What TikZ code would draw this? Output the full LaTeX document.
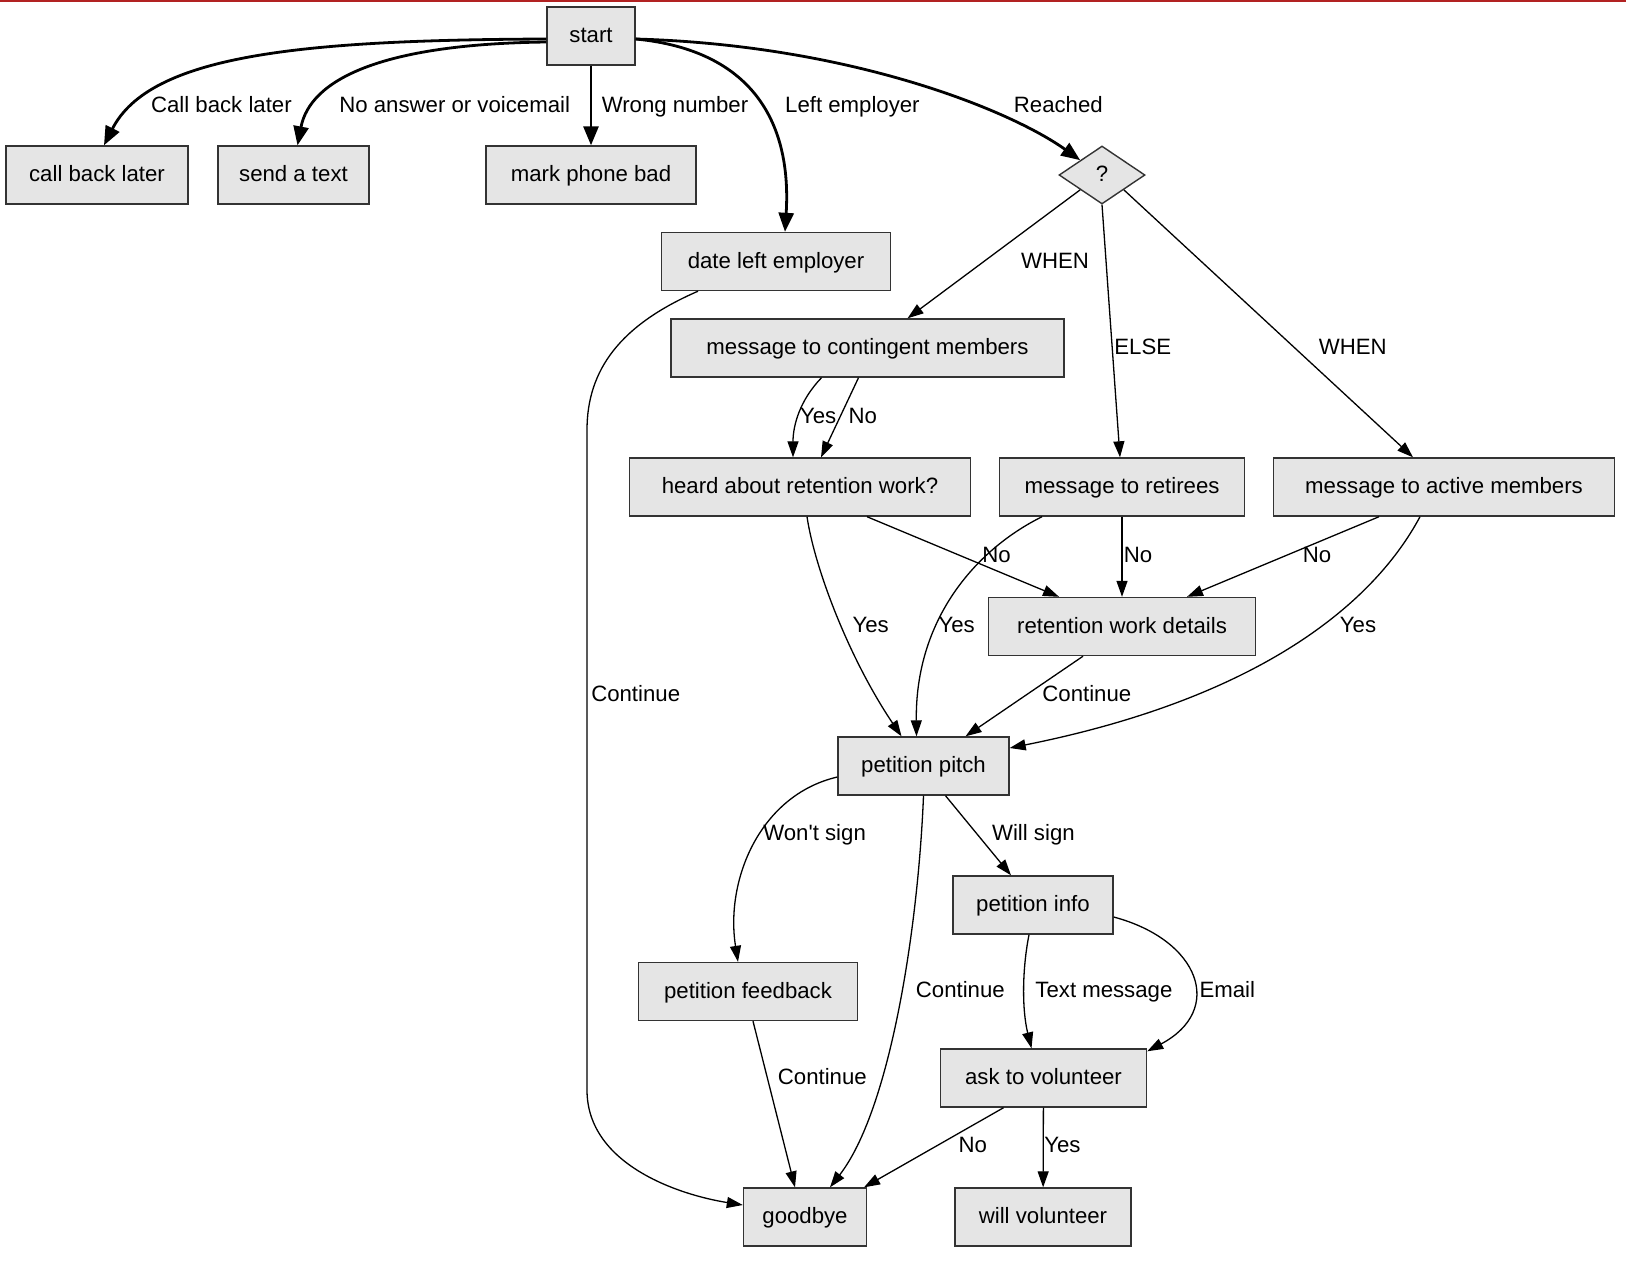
\documentclass[tikz,border=0pt]{standalone}
\usepackage{fontspec}
\setmainfont{Liberation Sans}
\usepackage{tikz}
\usetikzlibrary{calc}
\usetikzlibrary{arrows.meta}
\usetikzlibrary{shapes.geometric}
\definecolor{boxfill}{HTML}{E5E5E5}
\definecolor{boxline}{HTML}{333333}
\definecolor{topred}{HTML}{B22222}
\tikzstyle{box}=[rectangle, draw=boxline, fill=boxfill, line width=0.7pt, minimum height=29pt, inner sep=0pt, font=\fontsize{11.1}{13}\selectfont, text height=7.95pt, text depth=1pt]
\tikzstyle{decision}=[diamond, draw=boxline, fill=boxfill, line width=0.7pt, minimum width=43pt, minimum height=29pt, inner sep=0pt, font=\fontsize{11.1}{13}\selectfont, text height=7.95pt, text depth=1pt]
\tikzstyle{lbl}=[inner sep=0pt, font=\fontsize{11.1}{13}\selectfont, text height=7.95pt, text depth=0pt]
\tikzstyle{flowline}=[line width=0.65pt, -{Triangle[length=8pt,width=5.5pt]}]
\tikzstyle{boldline}=[line width=1.4pt, -{Triangle[length=9.5pt,width=7.5pt]}]

\begin{document}
\begin{tikzpicture}
        [x=0.5pt,y=-0.5pt]
            \useasboundingbox (0,0) rectangle (1626,1271);
            \draw [topred, line width=1pt] (0,1) -- (1626,1);
            \node [box, minimum width=44pt] (start) at (591,36) {start};
            \node [box, minimum width=91pt] (cbl) at (97,175) {call back later};
            \node [box, minimum width=75.5pt] (sat) at (293.5,175) {send a text};
            \node [box, minimum width=105pt] (mpb) at (591,175) {mark phone bad};
            \node [decision] (q) at (1102,175) {?};
            \node [box, minimum width=114.5pt] (dle) at (776,261.5) {date left employer};
            \node [box, minimum width=196.5pt] (mcm) at (867.5,348) {message to contingent members};
            \node [box, minimum width=170.5pt] (heard) at (800,487) {heard about retention work?};
            \node [box, minimum width=122.5pt] (mret) at (1122,487) {message to retirees};
            \node [box, minimum width=170.5pt] (mact) at (1444,487) {message to active members};
            \node [box, minimum width=133.75pt] (rwd) at (1122,626.5) {retention work details};
            \node [box, minimum width=85.5pt] (pitch) at (923.5,766) {petition pitch};
            \node [box, minimum width=80pt] (pinfo) at (1033,905) {petition info};
            \node [box, minimum width=109.5pt] (pfb) at (748,991.5) {petition feedback};
            \node [box, minimum width=103pt] (atv) at (1043.5,1078) {ask to volunteer};
            \node [box, minimum width=61.5pt] (bye) at (805,1217) {goodbye};
            \node [box, minimum width=88pt] (wv) at (1043,1217) {will volunteer};

            \draw [boldline] ($(start.west)+(0,3)$) .. controls (300,40) and (150,55) .. ($(cbl.north)+(7,0)$);
            \draw [boldline] ($(start.west)+(0,6)$) .. controls (380,44) and (310,80) .. ($(sat.north)+(4,0)$);
            \draw [boldline] (start) -- (mpb);
            \draw [boldline] ($(start.east)+(0,3)$) .. controls (750,50) and (792,120) .. ($(dle.north)+(9,0)$);
            \draw [boldline] ($(start.east)+(0,3)$) .. controls (850,45) and (1010,110) .. (q.north west);
            \node [lbl] (lcbl) at (221.4,104.5) {Call back later};
            \node [lbl] (lsat) at (454.7,104.5) {No answer or voicemail};
            \node [lbl] (lmpb) at (675,104.5) {Wrong number};
            \node [lbl] (ldle) at (852.4,104.5) {Left employer};
            \node [lbl] (lq) at (1058.3,104.5) {Reached};

            \draw [flowline] (q.south west) -- ($(mcm.north)+(40,0)$);
            \draw [flowline] (q.south) -- ($(mret.north)+(-2,0)$);
            \draw [flowline] (q.south east) -- ($(mact.north)+(-31,0)$);
            \node [lbl] (lmcm) at (1055.1,260.3) {WHEN};
            \node [lbl] (lmret) at (1142.8,346.4) {ELSE};
            \node [lbl] (lmact) at (1352.8,346.4) {WHEN};

            \draw [flowline] ($(dle.south)+(-78,0)$) .. controls (620,325) and (587,370) .. (587,430) -- (587,1090) .. controls (587,1165) and (680,1195) .. ($(bye.west)+(0,-12)$);
            \node [lbl] (ldlebye) at (635.7,693.8) {Continue};

            \draw [flowline] ($(mcm.south)+(-46,0)$) .. controls (800,400) and (793,425) .. ($(heard.north)+(-7,0)$);
            \draw [flowline] ($(mcm.south)+(-9,0)$) -- ($(heard.north)+(21,0)$);
            \node [lbl] (lmcmyes) at (818.2,415.8) {Yes};
            \node [lbl] (lmcmno) at (862.8,415.8) {No};

            \draw [flowline] ($(heard.south)+(7,0)$) .. controls (815,570) and (850,660) .. ($(pitch.north)+(-22,0)$);
            \draw [flowline] ($(heard.south)+(67,0)$) -- ($(rwd.north)+(-63,0)$);
            \draw [flowline] ($(mret.south)+(-80,0)$) .. controls (975,550) and (915,620) .. ($(pitch.north)+(-7,0)$);
            \draw [flowline] (mret) -- (rwd);
            \draw [flowline] ($(mact.south)+(-65,0)$) -- ($(rwd.north)+(65,0)$);
            \draw [flowline] ($(mact.south)+(-24,0)$) .. controls (1370,610) and (1250,700) .. ($(pitch.east)+(0,-18)$);
            \node [lbl] (lheardyes) at (870.6,624.3) {Yes};
            \node [lbl] (lheardno) at (996.6,554.8) {No};
            \node [lbl] (lmretyes) at (956.6,624.3) {Yes};
            \node [lbl] (lmretno) at (1138.1,554.8) {No};
            \node [lbl] (lmactno) at (1317,554.8) {No};
            \node [lbl] (lmactyes) at (1358,624.3) {Yes};

            \draw [flowline] ($(rwd.south)+(-39,0)$) -- ($(pitch.north)+(42,0)$);
            \node [lbl] (lrwd) at (1086.8,693.8) {Continue};

            \draw [flowline] ($(pitch.west)+(0,11)$) .. controls (760,795) and (725,880) .. ($(pfb.north)+(-10,0)$);
            \draw [flowline] (pitch.south) .. controls (918,930) and (890,1110) .. ($(bye.north)+(25,0)$);
            \draw [flowline] ($(pitch.south)+(22,0)$) -- ($(pinfo.north)+(-22,0)$);
            \node [lbl] (lpfb) at (814.6,832.7) {Won\textquotesingle t sign};
            \node [lbl] (lpinfo) at (1033.4,832.7) {Will sign};
            \node [lbl] (lpitchbye) at (960.3,989.3) {Continue};

            \draw [flowline] ($(pinfo.south)+(-4,0)$) .. controls (1022,970) and (1022,1010) .. ($(atv.north)+(-12,0)$);
            \draw [flowline] ($(pinfo.east)+(0,12)$) .. controls (1200,940) and (1225,1010) .. ($(atv.north east)+(0,3)$);
            \node [lbl] (ltext) at (1103.9,989.3) {Text message};
            \node [lbl] (lemail) at (1227.3,989.3) {Email};

            \draw [flowline] ($(pfb.south)+(5,0)$) -- ($(bye.north)+(-10,0)$);
            \draw [flowline] ($(atv.south)+(-40,0)$) -- ($(bye.north)+(59,0)$);
            \draw [flowline] (atv) -- (wv);
            \node [lbl] (lpfbbye) at (822.3,1076.4) {Continue};
            \node [lbl] (latvno) at (972.7,1144.8) {No};
            \node [lbl] (latvyes) at (1062.4,1144.8) {Yes};
        \end{tikzpicture}
\end{document}
